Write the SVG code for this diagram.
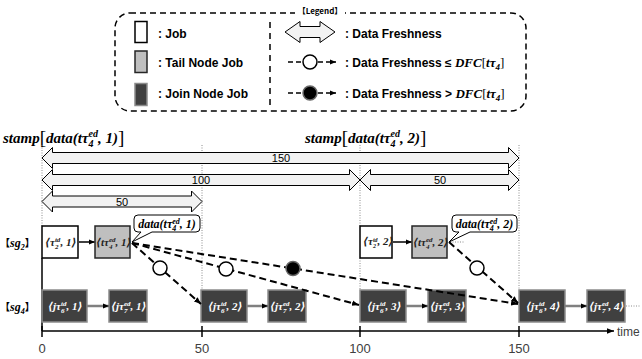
<svg xmlns="http://www.w3.org/2000/svg" width="642" height="359" viewBox="0 0 642 359">
<defs>
<style>
.lg { font-family: "Liberation Sans", Arial, sans-serif; font-weight: bold; font-size: 12px; fill: #000; }
.mb { font-family: "Liberation Serif", "DejaVu Serif", serif; font-style: italic; font-weight: bold; }
.up { font-style: normal; font-weight: normal; }
.cjk { font-family: "Noto Sans CJK JP", sans-serif; font-style: normal; }
.num { font-family: "Liberation Sans", Arial, sans-serif; font-size: 11px; fill: #000; text-anchor: middle; }
.tick { font-family: "Liberation Sans", Arial, sans-serif; font-size: 13px; fill: #404040; text-anchor: middle; }
.jt { font-family: "Liberation Serif", "DejaVu Serif", serif; font-style: italic; font-weight: bold; font-size: 11px; fill: #222; }
.jw { fill: #fff; }
.job { fill: #fff; stroke: #000; stroke-width: 1.5; }
.tail { fill: #bfbfbf; stroke: #262626; stroke-width: 1.5; }
.join { fill: #404040; stroke: #8c8c8c; stroke-width: 1.5; }
.fresh { fill: #f2f2f2; stroke: #000; stroke-width: 1; }
.dash { fill: none; stroke: #000; stroke-width: 2; stroke-dasharray: 7 4; }
.ldash { fill: none; stroke: #000; stroke-width: 1.5; stroke-dasharray: 5 3; }
.dot { fill: none; stroke: #8c8c8c; stroke-width: 1; stroke-dasharray: 1 1.5; }
.ok { fill: #fff; stroke: #000; stroke-width: 1.5; }
.ng { fill: #000; stroke: #666; stroke-width: 1.5; }
.call { fill: #fff; stroke: #000; stroke-width: 1; }
</style>
<marker id="ah" viewBox="0 0 10 10" refX="10" refY="5" markerWidth="7" markerHeight="7" markerUnits="userSpaceOnUse" orient="auto">
<path d="M0,1 L10,5 L0,9 Z" fill="#000"/>
</marker>
<marker id="ahs" viewBox="0 0 10 10" refX="10" refY="5" markerWidth="6" markerHeight="6" markerUnits="userSpaceOnUse" orient="auto">
<path d="M0,1 L10,5 L0,9 Z" fill="#000"/>
</marker>
</defs>
<rect width="642" height="359" fill="#fff"/>

<!-- legend -->
<g id="legend">
<rect x="115" y="13" width="411" height="98" rx="15" ry="15" fill="none" stroke="#000" stroke-width="1.5" stroke-dasharray="6 4"/>
<rect x="295" y="6" width="50" height="12" fill="#fff"/>
<text x="320" y="14" font-family="Noto Sans CJK JP, sans-serif" font-size="8" font-weight="bold" text-anchor="middle">【Legend】</text>
<line x1="270" y1="22" x2="270" y2="108" stroke="#000" stroke-width="1.5" stroke-dasharray="6 5"/>
<rect class="job" x="135" y="21.5" width="12" height="21"/>
<text class="lg" x="158" y="37.5">: Job</text>
<rect class="tail" x="135" y="51" width="12" height="21.5"/>
<text class="lg" x="158" y="66.5">: Tail Node Job</text>
<rect class="join" x="135" y="83.5" width="12" height="22"/>
<text class="lg" x="158" y="97.5">: Join Node Job</text>
<path class="fresh" d="M285,32 L300,21.5 L300,26.5 L320,26.5 L320,21.5 L335,32 L320,42.5 L320,37.5 L300,37.5 L300,42.5 Z"/>
<text class="lg" x="345" y="37.5">: Data Freshness</text>
<line class="ldash" x1="288" y1="62" x2="303" y2="62"/>
<line class="ldash" x1="318" y1="62" x2="336" y2="62" marker-end="url(#ahs)"/>
<circle class="ok" cx="310" cy="62" r="7"/>
<text class="lg" x="345" y="66.5">: Data Freshness ≤ <tspan class="mb" font-size="13">DFC</tspan><tspan font-family="Liberation Serif, serif" font-weight="normal" font-size="13">[</tspan><tspan class="mb" font-size="13">tτ</tspan><tspan class="mb" font-size="9" dy="3">4</tspan><tspan font-family="Liberation Serif, serif" font-weight="normal" font-size="13" dy="-3">]</tspan></text>
<line class="ldash" x1="288" y1="93" x2="303" y2="93"/>
<line class="ldash" x1="318" y1="93" x2="336" y2="93" marker-end="url(#ahs)"/>
<circle class="ng" cx="310" cy="93" r="7"/>
<text class="lg" x="345" y="97.5">: Data Freshness &gt; <tspan class="mb" font-size="13">DFC</tspan><tspan font-family="Liberation Serif, serif" font-weight="normal" font-size="13">[</tspan><tspan class="mb" font-size="13">tτ</tspan><tspan class="mb" font-size="9" dy="3">4</tspan><tspan font-family="Liberation Serif, serif" font-weight="normal" font-size="13" dy="-3">]</tspan></text>
</g>

<!-- time stamps -->
<g id="stamps">
<text class="mb" x="3" y="143" font-size="15">stamp<tspan class="up" font-size="19" dy="1">[</tspan><tspan dy="-1">data(tτ</tspan><tspan font-size="10" dy="-6">ed</tspan><tspan font-size="10" dx="-9.4" dy="10">4</tspan><tspan dx="4.4" dy="-4">, 1)</tspan><tspan class="up" font-size="19" dy="1">]</tspan></text>
<text class="mb" x="305" y="143" font-size="15">stamp<tspan class="up" font-size="19" dy="1">[</tspan><tspan dy="-1">data(tτ</tspan><tspan font-size="10" dy="-6">ed</tspan><tspan font-size="10" dx="-9.4" dy="10">4</tspan><tspan dx="4.4" dy="-4">, 2)</tspan><tspan class="up" font-size="19" dy="1">]</tspan></text>
</g>

<!-- time guides -->
<g id="guides">
<line class="dot" x1="42" y1="145" x2="42" y2="226"/>
<line class="dot" x1="202" y1="145" x2="202" y2="290"/>
<line class="dot" x1="360" y1="145" x2="360" y2="226"/>
<line class="dot" x1="360" y1="258" x2="360" y2="290"/>
<line class="dot" x1="519" y1="145" x2="519" y2="290"/>
<line class="dot" x1="626" y1="306" x2="641" y2="306"/>
<line class="dot" x1="450" y1="242" x2="465" y2="242"/>
</g>

<!-- freshness spans -->
<g id="spans">
<path class="fresh" d="M42,158 L52.5,147.5 L52.5,152.5 L508.5,152.5 L508.5,147.5 L519,158 L508.5,168.5 L508.5,163.5 L52.5,163.5 L52.5,168.5 Z"/>
<text class="num" x="281" y="162">150</text>
<path class="fresh" d="M42,180 L52.5,169.5 L52.5,174.5 L349.5,174.5 L349.5,169.5 L360,180 L349.5,190.5 L349.5,185.5 L52.5,185.5 L52.5,190.5 Z"/>
<text class="num" x="201" y="184">100</text>
<path class="fresh" d="M360,180 L370.5,169.5 L370.5,174.5 L508.5,174.5 L508.5,169.5 L519,180 L508.5,190.5 L508.5,185.5 L370.5,185.5 L370.5,190.5 Z"/>
<text class="num" x="440" y="184">50</text>
<path class="fresh" d="M42,201.5 L52.5,191 L52.5,196 L191.5,196 L191.5,191 L202,201.5 L191.5,212 L191.5,207 L52.5,207 L52.5,212 Z"/>
<text class="num" x="122" y="205.5">50</text>
</g>

<!-- time axis -->
<g id="axis">
<line x1="42" y1="258" x2="42" y2="331" stroke="#000" stroke-width="1.5"/>
<line x1="42" y1="331" x2="614" y2="331" stroke="#000" stroke-width="1.5" marker-end="url(#ah)"/>
<line x1="42" y1="326" x2="42" y2="337" stroke="#000" stroke-width="1.5"/>
<line x1="202" y1="326" x2="202" y2="337" stroke="#000" stroke-width="1.5"/>
<line x1="360" y1="326" x2="360" y2="337" stroke="#000" stroke-width="1.5"/>
<line x1="519" y1="326" x2="519" y2="337" stroke="#000" stroke-width="1.5"/>
<text class="tick" x="42" y="353">0</text>
<text class="tick" x="202" y="353">50</text>
<text class="tick" x="360" y="353">100</text>
<text class="tick" x="519" y="353">150</text>
<text x="617" y="336" font-family="Liberation Sans, Arial, sans-serif" font-size="12" fill="#404040">time</text>
</g>

<!-- row labels -->
<g id="rows">
<text class="mb" x="0" y="246.5" font-size="12"><tspan class="cjk" font-size="10">【</tspan>sg<tspan font-size="8" dy="3">2</tspan><tspan class="cjk" font-size="10" dy="-3">】</tspan></text>
<text class="mb" x="0" y="310.5" font-size="12"><tspan class="cjk" font-size="10">【</tspan>sg<tspan font-size="8" dy="3">4</tspan><tspan class="cjk" font-size="10" dy="-3">】</tspan></text>
</g>

<!-- sg2 jobs -->
<g id="sg2-job1">
<rect class="job" x="42" y="226" width="36" height="32"/>
<text class="jt" x="45" y="245.5">⟨τ<tspan font-size="7" dy="-4">td</tspan><tspan font-size="7" dx="-5.4" dy="7">2</tspan><tspan dx="1.9" dy="-3">, 1⟩</tspan></text>
</g>
<g id="sg2-tail1">
<rect class="tail" x="95" y="226" width="35" height="32"/>
<text class="jt" x="96" y="245.5">⟨tτ<tspan font-size="7" dy="-4">ed</tspan><tspan font-size="7" dx="-6.6" dy="7">4</tspan><tspan dx="3.1" dy="-3">, 1⟩</tspan></text>
</g>
<g id="sg2-job2">
<rect class="job" x="360" y="226" width="32" height="32"/>
<text class="jt" x="363" y="245" font-size="9.5">⟨τ<tspan font-size="6" dy="-3.5">td</tspan><tspan font-size="6" dx="-4.7" dy="6">2</tspan><tspan dx="1.7" dy="-2.5">, 2⟩</tspan></text>
</g>
<g id="sg2-tail2">
<rect class="tail" x="412" y="226" width="35" height="32"/>
<text class="jt" x="413" y="245.5">⟨tτ<tspan font-size="7" dy="-4">ed</tspan><tspan font-size="7" dx="-6.6" dy="7">4</tspan><tspan dx="3.1" dy="-3">, 2⟩</tspan></text>
</g>

<!-- data callouts -->
<g id="callout1">
<path class="call" d="M138,215 H196 Q200,215 200,219 V228 Q200,232 196,232 H152 L132,242 L141,232 H138 Q134,232 134,228 V219 Q134,215 138,215 Z"/>
<text class="mb" x="167" y="228" font-size="12" text-anchor="middle">data(tτ<tspan font-size="8" dy="-4.5">ed</tspan><tspan font-size="8" dx="-7.6" dy="7.5">4</tspan><tspan dx="3.6" dy="-3">, 1)</tspan></text>
</g>
<g id="callout2">
<path class="call" d="M456,215 H513 Q517,215 517,219 V228 Q517,232 513,232 H470 L449,242 L459,232 H456 Q452,232 452,228 V219 Q452,215 456,215 Z"/>
<text class="mb" x="484.5" y="228" font-size="12" text-anchor="middle">data(tτ<tspan font-size="8" dy="-4.5">ed</tspan><tspan font-size="8" dx="-7.6" dy="7.5">4</tspan><tspan dx="3.6" dy="-3">, 2)</tspan></text>
</g>

<!-- sg4 jobs -->
<g id="sg4-join1">
<rect class="join" x="42" y="290" width="45" height="32"/>
<text class="jt jw" x="48" y="309.5">⟨jτ<tspan font-size="7" dy="-4">td</tspan><tspan font-size="7" dx="-5.4" dy="7">6</tspan><tspan dx="1.9" dy="-3">, 1⟩</tspan></text>
</g>
<g id="sg4-tail1">
<rect class="join" x="109" y="290" width="38" height="32"/>
<text class="jt jw" x="111" y="309.5">⟨jτ<tspan font-size="7" dy="-4">ed</tspan><tspan font-size="7" dx="-6.6" dy="7">7</tspan><tspan dx="3.1" dy="-3">, 1⟩</tspan></text>
</g>
<g id="sg4-join2">
<rect class="join" x="201" y="290" width="46" height="32"/>
<text class="jt jw" x="208" y="309.5">⟨jτ<tspan font-size="7" dy="-4">td</tspan><tspan font-size="7" dx="-5.4" dy="7">6</tspan><tspan dx="1.9" dy="-3">, 2⟩</tspan></text>
</g>
<g id="sg4-tail2">
<rect class="join" x="268" y="290" width="38" height="32"/>
<text class="jt jw" x="270" y="309.5">⟨jτ<tspan font-size="7" dy="-4">ed</tspan><tspan font-size="7" dx="-6.6" dy="7">7</tspan><tspan dx="3.1" dy="-3">, 2⟩</tspan></text>
</g>
<g id="sg4-join3">
<rect class="join" x="360" y="290" width="46" height="32"/>
<text class="jt jw" x="367" y="309.5">⟨jτ<tspan font-size="7" dy="-4">td</tspan><tspan font-size="7" dx="-5.4" dy="7">6</tspan><tspan dx="1.9" dy="-3">, 3⟩</tspan></text>
</g>
<g id="sg4-tail3">
<rect class="join" x="428" y="290" width="38" height="32"/>
<text class="jt jw" x="430" y="309.5">⟨jτ<tspan font-size="7" dy="-4">ed</tspan><tspan font-size="7" dx="-6.6" dy="7">7</tspan><tspan dx="3.1" dy="-3">, 3⟩</tspan></text>
</g>
<g id="sg4-join4">
<rect class="join" x="519" y="290" width="46" height="32"/>
<text class="jt jw" x="526" y="309.5">⟨jτ<tspan font-size="7" dy="-4">td</tspan><tspan font-size="7" dx="-5.4" dy="7">6</tspan><tspan dx="1.9" dy="-3">, 4⟩</tspan></text>
</g>
<g id="sg4-tail4">
<rect class="join" x="587" y="290" width="38" height="32"/>
<text class="jt jw" x="589" y="309.5">⟨jτ<tspan font-size="7" dy="-4">ed</tspan><tspan font-size="7" dx="-6.6" dy="7">7</tspan><tspan dx="3.1" dy="-3">, 4⟩</tspan></text>
</g>

<!-- connectors -->
<g id="connectors">
<line x1="78" y1="242" x2="95" y2="242" stroke="#404040" stroke-width="2" marker-end="url(#ahs)"/>
<line x1="392" y1="242" x2="412" y2="242" stroke="#404040" stroke-width="2" marker-end="url(#ahs)"/>
<line x1="87" y1="306" x2="109" y2="306" stroke="#808080" stroke-width="2.5" marker-end="url(#ahs)"/>
<line x1="247" y1="306" x2="268" y2="306" stroke="#808080" stroke-width="2.5" marker-end="url(#ahs)"/>
<line x1="406" y1="306" x2="428" y2="306" stroke="#808080" stroke-width="2.5" marker-end="url(#ahs)"/>
<line x1="565" y1="306" x2="587" y2="306" stroke="#808080" stroke-width="2.5" marker-end="url(#ahs)"/>
<line class="dash" x1="132" y1="243" x2="201" y2="304" marker-end="url(#ah)"/>
<line class="dash" x1="132" y1="243" x2="359" y2="305" marker-end="url(#ah)"/>
<line class="dash" x1="132" y1="243" x2="518" y2="304" marker-end="url(#ah)"/>
<line class="dash" x1="449" y1="242" x2="518" y2="303" marker-end="url(#ah)"/>
<circle class="ok" cx="160" cy="268" r="7"/>
<circle class="ok" cx="226" cy="269" r="7"/>
<circle class="ng" cx="293" cy="268.5" r="7"/>
<circle class="ok" cx="477" cy="268" r="7"/>
</g>
</svg>
